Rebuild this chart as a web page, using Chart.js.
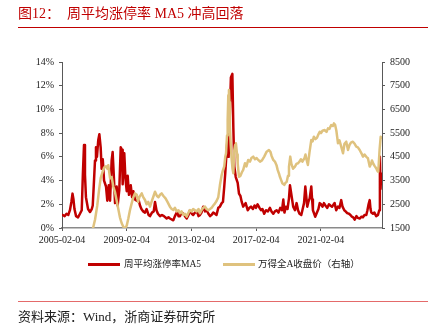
<!DOCTYPE html>
<html>
<head>
<meta charset="utf-8">
<script src="https://cdn.jsdelivr.net/npm/chart.js"></script>
<style>
  body { margin: 0; background: #fff; }
  #wrap { position: relative; width: 442px; height: 327px; overflow: hidden; }
  #wrap canvas { position: absolute; left: 0; top: 0; }
  .txt { position: absolute; white-space: nowrap; font-family: "Liberation Serif", "Noto Sans CJK SC", serif; }
  .rule { position: absolute; left: 18px; width: 410px; height: 0; }
  .swatch { position: absolute; width: 32px; height: 3px; }
</style>
</head>
<body>
<div id="wrap">
  <canvas id="chart" width="442" height="327"></canvas>
  <div class="txt" style="left:18px;top:5px;font-size:14px;line-height:18px;color:#C00000;">图12：<span style="margin-left:7px;">周平均涨停率 MA5 冲高回落</span></div>
  <div class="rule" style="top:27px;border-top:1px solid #C00000;"></div>
  <div class="swatch" style="left:88px;top:263px;background:#C00000;"></div>
  <div class="txt" style="left:124px;top:258px;font-size:9.5px;line-height:12px;color:#222;">周平均涨停率MA5</div>
  <div class="swatch" style="left:223px;top:263px;background:#DFC27E;"></div>
  <div class="txt" style="left:258px;top:258px;font-size:9.5px;line-height:12px;color:#222;">万得全A收盘价（右轴）</div>
  <div class="rule" style="top:301px;border-top:1px solid #E46A6A;"></div>
  <div class="txt" style="left:18px;top:309px;font-size:13px;line-height:16px;color:#222;">资料来源：Wind，浙商证券研究所</div>
</div>
<script>
// x axis ticks (decimal years) and their labels
const xTickYears = [2005.09, 2009.09, 2013.09, 2017.09, 2021.09];
const xTickLabels = ['2005-02-04', '2009-02-04', '2013-02-04', '2017-02-04', '2021-02-04'];

// 周平均涨停率MA5 (%)
const rateYears = [
  2005.12, 2005.25, 2005.37, 2005.48, 2005.58, 2005.67, 2005.74, 2005.80, 2005.86, 2005.96,
  2006.08, 2006.20, 2006.31, 2006.38, 2006.45, 2006.51, 2006.57, 2006.70, 2006.82, 2006.93,
  2006.99, 2007.05, 2007.13, 2007.19, 2007.25, 2007.33, 2007.40, 2007.48, 2007.54, 2007.61,
  2007.69, 2007.81, 2007.89, 2007.98, 2008.06, 2008.16, 2008.22, 2008.30, 2008.37, 2008.47,
  2008.53, 2008.63, 2008.72, 2008.80, 2008.84, 2008.90, 2008.94, 2009.01, 2009.09, 2009.15,
  2009.23, 2009.34, 2009.42, 2009.50, 2009.60, 2009.71, 2009.82, 2009.91, 2010.00, 2010.11,
  2010.22, 2010.32, 2010.44, 2010.53, 2010.65, 2010.76, 2010.84, 2010.93, 2011.02, 2011.15,
  2011.27, 2011.39, 2011.56, 2011.67, 2011.76, 2011.97, 2012.07, 2012.22, 2012.29, 2012.38,
  2012.48, 2012.59, 2012.69, 2012.80, 2012.91, 2013.00, 2013.11, 2013.20, 2013.31, 2013.43,
  2013.53, 2013.62, 2013.71, 2013.82, 2013.93, 2014.03, 2014.14, 2014.24, 2014.33, 2014.44,
  2014.55, 2014.64, 2014.75, 2014.85, 2014.96, 2015.04, 2015.12, 2015.18, 2015.23, 2015.33,
  2015.39, 2015.47, 2015.53, 2015.62, 2015.68, 2015.74, 2015.83, 2015.95, 2016.03, 2016.12,
  2016.20, 2016.29, 2016.44, 2016.57, 2016.68, 2016.77, 2016.89, 2016.99, 2017.08, 2017.18,
  2017.30, 2017.39, 2017.48, 2017.59, 2017.70, 2017.82, 2017.94, 2018.04, 2018.15, 2018.25,
  2018.36, 2018.47, 2018.58, 2018.69, 2018.77, 2018.84, 2018.93, 2019.03, 2019.12, 2019.18,
  2019.26, 2019.38, 2019.49, 2019.59, 2019.68, 2019.77, 2019.88, 2019.95, 2020.05, 2020.13,
  2020.20, 2020.25, 2020.32, 2020.40, 2020.50, 2020.55, 2020.60, 2020.68, 2020.74, 2020.85,
  2020.94, 2021.02, 2021.10, 2021.19, 2021.28, 2021.37, 2021.49, 2021.59, 2021.68, 2021.78,
  2021.94, 2022.04, 2022.15, 2022.24, 2022.35, 2022.43, 2022.54, 2022.62, 2022.72, 2022.83,
  2022.92, 2023.01, 2023.09, 2023.18, 2023.29, 2023.38, 2023.49, 2023.60, 2023.69, 2023.79,
  2023.90, 2023.97, 2024.04, 2024.11, 2024.16, 2024.21, 2024.31, 2024.40, 2024.51, 2024.62,
  2024.70, 2024.74, 2024.78, 2024.82
];
const rateMA5 = [
  1.1, 1.0, 1.2, 1.1, 1.5, 2.2, 2.9, 2.4, 1.6, 1.0,
  0.9, 1.2, 1.5, 4.5, 7.0, 4.5, 2.6, 1.6, 1.35, 1.6,
  1.9, 3.5, 5.7, 6.8, 6.0, 7.4, 7.9, 6.8, 5.0, 5.8,
  4.0, 3.5, 2.3, 3.6, 2.3, 5.7, 6.4, 4.2, 2.1, 3.5,
  1.9, 3.2, 6.8, 6.6, 3.7, 5.8, 6.3, 4.2, 3.1, 4.4,
  2.8, 3.6, 2.6, 3.1, 2.4, 2.3, 2.4, 1.9, 1.6, 1.4,
  1.3, 1.6, 1.1, 1.0, 1.3, 1.4, 2.2, 1.5, 1.2, 1.0,
  1.1, 1.0, 0.8, 0.9, 0.8, 0.65, 1.0, 1.4, 1.0, 1.0,
  1.3, 1.2, 1.0, 0.8, 1.1, 1.5, 1.2, 1.1, 1.3, 1.4,
  1.0, 1.1, 1.3, 1.8, 1.4, 1.5, 1.2, 1.0, 1.1, 1.3,
  1.2, 1.1, 1.7, 1.8, 2.1, 2.2, 3.5, 4.6, 5.7, 7.7,
  6.0, 9.9, 12.7, 13.0, 8.5, 5.2, 4.3, 3.8, 2.9, 2.7,
  2.2, 1.8, 2.1, 1.5, 1.7, 1.8, 1.6, 1.9, 1.7, 2.0,
  1.7, 1.5, 1.6, 1.2, 1.5, 1.4, 1.7, 1.4, 1.2, 1.4,
  1.5, 1.3, 1.7, 1.5, 2.4, 1.3, 1.8, 1.6, 2.5, 3.6,
  2.9, 1.8, 1.5, 2.1, 1.5, 1.2, 1.1, 1.5, 2.1, 3.5,
  2.5, 1.8, 2.2, 2.5, 3.5, 2.4, 1.5, 1.2, 0.95, 1.3,
  1.6, 2.1, 2.0, 1.8, 2.1, 1.9, 1.7, 2.0, 1.9, 1.8,
  2.1, 1.5, 1.8, 1.7, 2.35, 1.8, 1.5, 1.4, 1.25, 1.2,
  1.1, 0.95, 0.9, 0.7, 1.0, 0.85, 0.8, 0.95, 0.9, 1.1,
  1.1, 1.5, 2.0, 2.35, 1.6, 1.3, 1.2, 1.3, 1.0, 1.1,
  1.5, 6.0, 3.3, 4.6
];

// 万得全A收盘价 (right axis)
const indexYears = [
  2005.09, 2005.89, 2006.51, 2006.88, 2007.01, 2007.13, 2007.27, 2007.38, 2007.48, 2007.59,
  2007.69, 2007.81, 2007.89, 2007.95, 2008.06, 2008.16, 2008.26, 2008.37, 2008.47, 2008.57,
  2008.67, 2008.78, 2008.88, 2008.98, 2009.09, 2009.19, 2009.29, 2009.40, 2009.50, 2009.60,
  2009.71, 2009.79, 2009.87, 2010.02, 2010.11, 2010.22, 2010.32, 2010.42, 2010.53, 2010.65,
  2010.75, 2010.84, 2010.96, 2011.05, 2011.15, 2011.25, 2011.36, 2011.49, 2011.61, 2011.76,
  2011.87, 2011.97, 2012.07, 2012.18, 2012.29, 2012.38, 2012.48, 2012.59, 2012.69, 2012.80,
  2012.91, 2013.00, 2013.11, 2013.20, 2013.31, 2013.41, 2013.53, 2013.62, 2013.71, 2013.82,
  2013.93, 2014.03, 2014.13, 2014.24, 2014.34, 2014.44, 2014.55, 2014.65, 2014.75, 2014.85,
  2014.95, 2015.02, 2015.12, 2015.18, 2015.23, 2015.29, 2015.33, 2015.37, 2015.41, 2015.44,
  2015.47, 2015.52, 2015.58, 2015.63, 2015.68, 2015.74, 2015.79, 2015.84, 2015.91, 2015.95,
  2016.03, 2016.12, 2016.21, 2016.29, 2016.40, 2016.49, 2016.60, 2016.71, 2016.80, 2016.91,
  2017.02, 2017.12, 2017.22, 2017.33, 2017.45, 2017.59, 2017.74, 2017.88, 2017.98, 2018.04,
  2018.15, 2018.25, 2018.35, 2018.42, 2018.50, 2018.56, 2018.62, 2018.71, 2018.83, 2018.90,
  2018.98, 2019.06, 2019.12, 2019.20, 2019.27, 2019.37, 2019.49, 2019.58, 2019.68, 2019.77,
  2019.86, 2019.95, 2020.08, 2020.14, 2020.20, 2020.29, 2020.39, 2020.50, 2020.58, 2020.66,
  2020.76, 2020.85, 2020.94, 2021.02, 2021.10, 2021.19, 2021.33, 2021.44, 2021.53, 2021.62,
  2021.73, 2021.83, 2021.90, 2021.97, 2022.05, 2022.15, 2022.24, 2022.35, 2022.46, 2022.55,
  2022.66, 2022.77, 2022.86, 2022.95, 2023.07, 2023.18, 2023.28, 2023.38, 2023.49, 2023.60,
  2023.69, 2023.79, 2023.90, 2024.00, 2024.11, 2024.19, 2024.25, 2024.34, 2024.43, 2024.51,
  2024.59, 2024.64, 2024.72, 2024.79, 2024.84
];
const indexClose = [
  1000, 1080, 1200, 1380, 1500, 1850, 2450, 3100, 3600, 3850,
  4050, 4100, 4000, 4150, 3600, 3650, 3250, 3000, 2650, 2300,
  1950, 1700, 1550, 1480, 1600, 1900, 2250, 2550, 2800, 2960,
  2900, 2600, 2800, 2960, 2800, 2680, 2500, 2600, 2400, 2650,
  2850, 3030, 2850, 2800, 2900, 2960, 2850, 2750, 2600, 2400,
  2300, 2260, 2350, 2200, 2250, 2120, 2200, 2050, 2100, 1980,
  2150, 2260, 2200, 2300, 2250, 2200, 2300, 2120, 2250, 2350,
  2400, 2300, 2250, 2300, 2350, 2450, 2540, 2650, 2800, 3300,
  3700, 3900, 4100, 4500, 4650, 5400, 6050, 7100, 7320, 6800,
  5770, 5000, 4370, 4000, 3810, 4790, 5000, 5070, 4600, 4230,
  3660, 3700, 3850, 3950, 4230, 4100, 4370, 4300, 4450, 4510,
  4400, 4450, 4370, 4300, 4350, 4510, 4720, 4790, 4700, 4550,
  4370, 4300, 4150, 3950, 3800, 3660, 3550, 3390, 3320, 3400,
  3450, 3700, 4090, 4510, 4200, 4000, 4090, 4200, 4230, 4300,
  4400, 4300, 4450, 4600, 4400, 4160, 4700, 5210, 5150, 5350,
  5250, 5300, 5450, 5560, 5500, 5600, 5630, 5550, 5700, 5680,
  5840, 5800, 5910, 5850, 5600, 5070, 5200, 4930, 4650, 5050,
  5140, 4790, 5000, 5100, 5140, 5050, 4930, 4900, 4790, 4650,
  4510, 4600, 4500, 4440, 4090, 4200, 4350, 4200, 4100, 4020,
  3900, 3870, 4790, 5350, 5300
];

const axisColor = '#595959';
const tickFont = { family: '"Liberation Serif", serif', size: 10 };

new Chart(document.getElementById('chart'), {
  type: 'line',
  data: {
    datasets: [
      {
        label: '周平均涨停率MA5',
        data: rateYears.map((x, i) => ({ x: x, y: rateMA5[i] })),
        yAxisID: 'y',
        borderColor: '#C00000',
        borderWidth: 2.5,
        order: 1
      },
      {
        label: '万得全A收盘价（右轴）',
        data: indexYears.map((x, i) => ({ x: x, y: indexClose[i] })),
        yAxisID: 'y1',
        borderColor: '#DFC27E',
        borderWidth: 2.5,
        order: 0
      }
    ]
  },
  options: {
    responsive: false,
    animation: false,
    events: [],
    layout: { padding: { top: 62, left: 0, right: 0, bottom: 0 } },
    elements: {
      point: { radius: 0 },
      line: { tension: 0, borderJoinStyle: 'round', borderCapStyle: 'round' }
    },
    plugins: { legend: { display: false }, tooltip: { enabled: false } },
    scales: {
      x: {
        type: 'linear',
        min: 2005.09,
        max: 2024.87,
        afterBuildTicks: (axis) => { axis.ticks = xTickYears.map(v => ({ value: v })); },
        afterFit: (axis) => { axis.height = 99; },
        grid: { drawOnChartArea: false, tickLength: 3, tickColor: axisColor },
        border: { color: '#8a8a8a', width: 1.5 },
        ticks: {
          autoSkip: false,
          maxRotation: 0,
          padding: 3,
          color: '#222',
          font: tickFont,
          callback: (v, i) => xTickLabels[i]
        }
      },
      y: {
        position: 'left',
        min: 0,
        max: 14,
        afterFit: (axis) => { axis.width = 62; },
        grid: { drawOnChartArea: false, tickLength: 3, tickColor: axisColor },
        border: { color: axisColor, width: 1 },
        ticks: {
          stepSize: 2,
          padding: 5,
          color: '#222',
          font: tickFont,
          callback: (v) => v + '%'
        }
      },
      y1: {
        position: 'right',
        min: 1500,
        max: 8500,
        afterFit: (axis) => { axis.width = 60; },
        grid: { drawOnChartArea: false, tickLength: 3, tickColor: axisColor },
        border: { color: axisColor, width: 1 },
        ticks: {
          stepSize: 1000,
          padding: 5,
          color: '#222',
          font: tickFont,
          callback: (v) => String(v)
        }
      }
    }
  }
});
</script>
</body>
</html>
